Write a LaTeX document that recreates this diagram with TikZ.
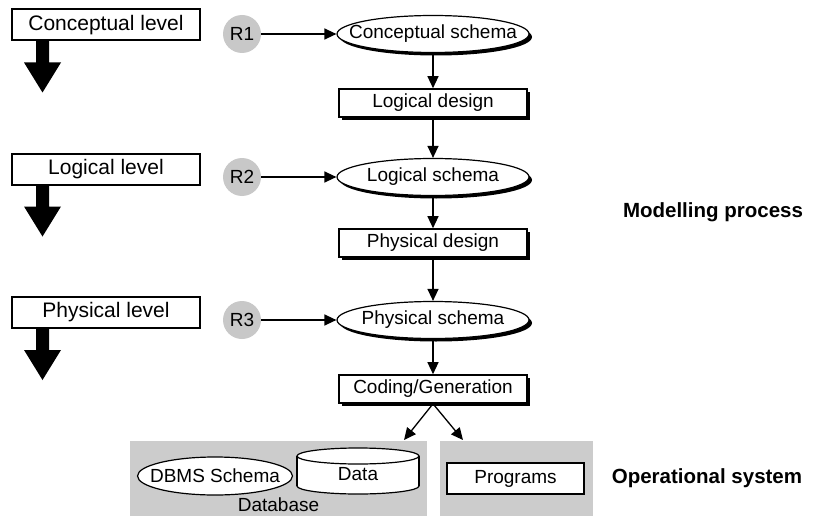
\documentclass[tikz,border=0pt]{standalone}
\usepackage{fontspec}
\setmainfont{Liberation Sans}
\usetikzlibrary{shapes.geometric,arrows.meta,shadows}
\definecolor{rgray}{HTML}{C8C8C8}
\definecolor{areagray}{HTML}{CCCCCC}
% zero-width label so that an ellipse keeps its given size
\newcommand{\ovallabel}[1]{\makebox[0pt]{#1}}
\begin{document}
\begin{tikzpicture}[x=1pt,y=-1pt,
  lbl/.style={font=\fontsize{19}{22}\selectfont},
  levelbox/.style={draw, line width=2pt, fill=white, minimum width=188pt,
    minimum height=31pt, inner sep=0pt, font=\fontsize{21}{24}\selectfont},
  rcirc/.style={circle, fill=rgray, minimum size=38pt, inner sep=0pt, lbl},
  blackshadow/.style={drop shadow={opacity=1, fill=black,
    shadow xshift=3pt, shadow yshift=-3pt}},
  schema/.style={ellipse, draw, line width=1.2pt, fill=white,
    minimum width=192pt, minimum height=37pt, inner sep=0pt, lbl, blackshadow},
  stepbox/.style={rectangle, draw, line width=1.6pt, fill=white,
    minimum width=188pt, minimum height=28pt, inner sep=0pt, lbl, blackshadow},
  flow/.style={line width=1.3pt, -{Triangle[length=12pt,width=11pt]}},
  area/.style={rectangle, fill=areagray, inner sep=0pt},
  heading/.style={font=\fontsize{20.5}{24}\bfseries\selectfont}
]
\useasboundingbox (0,0) rectangle (813,516);

% levels on the left
\node[levelbox] (lev1) at (106,25)    {Conceptual level};
\node[levelbox] (lev2) at (106,169)   {Logical level};
\node[levelbox] (lev3) at (106,312.5) {Physical level};
\foreach \b in {40.5,184.5,328} {
  \fill (36,\b) -- (49,\b) -- (49,{\b+22}) -- (61,{\b+22}) -- (42.5,{\b+52})
        -- (24,{\b+22}) -- (36,{\b+22}) -- cycle;
}

% requirement markers
\node[rcirc] (r1) at (242,34)  {R1};
\node[rcirc] (r2) at (242,177) {R2};
\node[rcirc] (r3) at (242,320) {R3};

% modelling chain
\node[schema]  (cs) at (433,34)  {\ovallabel{Conceptual schema}};
\node[stepbox] (ld) at (433,103) {Logical design};
\node[schema]  (ls) at (433,177) {\ovallabel{Logical schema}};
\node[stepbox] (pd) at (433,243) {Physical design};
\node[schema]  (ps) at (433,320) {\ovallabel{Physical schema}};
\node[stepbox] (cg) at (433,389) {Coding/Generation};

\draw[flow] (r1) -- (cs);
\draw[flow] (r2) -- (ls);
\draw[flow] (r3) -- (ps);
\draw[flow] (cs) -- (ld);
\draw[flow] (ld) -- (ls);
\draw[flow] (ls) -- (pd);
\draw[flow] (pd) -- (ps);
\draw[flow] (ps) -- (cg);

% operational system
\node[area, minimum width=297pt, minimum height=75pt] (dbarea)   at (278.5,478.5) {};
\node[area, minimum width=153pt, minimum height=75pt] (progarea) at (516.5,478.5) {};

\coordinate (dbin)   at (404,440);
\coordinate (progin) at (463,440);
\draw[flow] (cg.south) -- (dbin);
\draw[flow] (cg.south) -- (progin);

\node[ellipse, draw, line width=1.2pt, fill=white, minimum width=155pt,
      minimum height=38pt, inner sep=0pt, lbl] (dbms) at (215,476)
      {\ovallabel{DBMS Schema}};

% data store drawn as a cylinder
\filldraw[fill=white, line width=1.2pt] (358,486) ellipse [x radius=61, y radius=8];
\fill[white] (297,456) rectangle (419,486);
\draw[line width=1.2pt] (297,456) -- (297,486) (419,456) -- (419,486);
\filldraw[fill=white, line width=1.2pt] (358,456) ellipse [x radius=61, y radius=8];
\node[lbl] (data) at (358,474) {Data};

\node[lbl] (dblabel) at (278.5,505) {Database};

\node[rectangle, draw, line width=2pt, fill=white, minimum width=137pt,
      minimum height=31pt, inner sep=0pt, lbl] (prog) at (515.5,478.5) {Programs};

% headings
\node[heading] (mp) at (713,212) {Modelling process};
\node[heading] (os) at (707,478) {Operational system};
\end{tikzpicture}
\end{document}
